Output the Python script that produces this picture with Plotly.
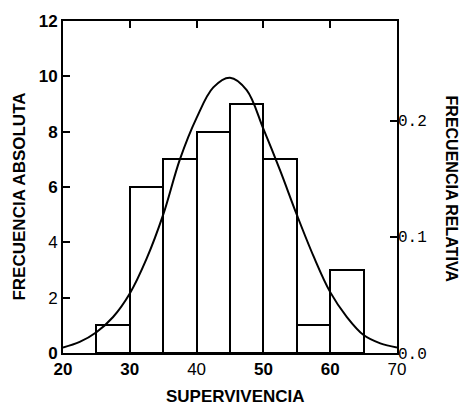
import plotly.graph_objects as go

# Histogram data (class midpoints, width 5)
bin_centers = [27.5, 32.5, 37.5, 42.5, 47.5, 52.5, 57.5, 62.5]
counts = [1, 6, 7, 8, 9, 7, 1, 3]
bin_width = 5

# Fitted curve, values
curve_x = [20, 22.5, 25, 27.5, 30, 32.5, 35, 37.5, 40, 42.5, 45, 47.5, 50,
           52.5, 55, 57.5, 60, 62.5, 65, 67.5, 70]
curve_y = [0.2, 0.4, 0.75, 1.3, 2.15, 3.4, 5.0, 7.0, 8.5, 9.6, 9.95, 9.5, 8.1,
           6.6, 5.0, 3.5, 2.2, 1.3, 0.65, 0.35, 0.2]

x_ticks = [20, 30, 40, 50, 60, 70]
x_ticktext = ["<b>20</b>", "<b>30</b>", "40", "<b>50</b>", "<b>60</b>", "70"]
y_ticks = [0, 2, 4, 6, 8, 10, 12]
y_ticktext = ["<b>0</b>", "2", "4", "<b>6</b>", "<b>8</b>", "<b>10</b>", "<b>12</b>"]
rel_ticks = [0.0, 0.1, 0.2]
rel_ticktext = ["0.0", "0.1", "0.2"]
total = sum(counts)

FONT = "Liberation Sans"
TITLE_FONT = "Liberation Sans Narrow, Liberation Sans"

fig = go.Figure()
fig.add_trace(go.Bar(
    x=bin_centers, y=counts, width=[bin_width] * len(counts),
    marker=dict(color="white", line=dict(color="black", width=2)),
    showlegend=False, hoverinfo="skip"))
fig.add_trace(go.Scatter(
    x=curve_x, y=curve_y, mode="lines",
    line=dict(color="black", width=2, shape="spline", smoothing=1.0),
    showlegend=False))
# invisible trace to activate secondary axis
fig.add_trace(go.Scatter(x=[20], y=[0], yaxis="y2", mode="markers",
                         marker=dict(opacity=0), showlegend=False,
                         hoverinfo="skip"))

fig.update_layout(
    width=462, height=405,
    margin=dict(l=63, r=65, t=19, b=52),
    paper_bgcolor="white", plot_bgcolor="white",
    font=dict(family=FONT, color="black", size=14),
    bargap=0,
    xaxis=dict(range=[20, 70], tickvals=x_ticks, ticktext=x_ticktext,
               ticks="inside", ticklen=7,
               tickwidth=2, tickcolor="black", showline=True, linewidth=2,
               linecolor="black", mirror="ticks", showgrid=False,
               zeroline=False, tickfont=dict(size=17, family=FONT)),
    yaxis=dict(range=[0, 12], tickvals=y_ticks, ticktext=y_ticktext,
               ticks="inside", ticklen=7,
               tickwidth=2, tickcolor="black", showline=True, linewidth=2,
               linecolor="black", mirror=True, showgrid=False,
               zeroline=False, tickfont=dict(size=17, family=FONT)),
    yaxis2=dict(range=[0, 12 / total], tickvals=rel_ticks,
                ticktext=rel_ticktext, overlaying="y", side="right",
                ticks="inside", ticklen=7, tickwidth=2, tickcolor="black",
                showline=False, showgrid=False, zeroline=False,
                tickfont=dict(size=16, family="Liberation Mono")),
    annotations=[
        dict(text="<b>SUPERVIVENCIA</b>", xref="paper", x=0.515,
             yref="paper", y=-0.13, xanchor="center", yanchor="middle",
             showarrow=False, font=dict(size=17, family=TITLE_FONT)),
        dict(text="<b>FRECUENCIA ABSOLUTA</b>", xref="paper", yref="paper",
             x=-0.13, y=0.47, xanchor="center", yanchor="middle",
             textangle=-90, showarrow=False,
             font=dict(size=17, family=TITLE_FONT)),
        dict(text="<b>FRECUENCIA RELATIVA</b>", xref="paper", yref="paper",
             x=1.162, y=0.495, xanchor="center", yanchor="middle",
             textangle=90, showarrow=False,
             font=dict(size=16, family=TITLE_FONT)),
    ],
)

fig.write_html(
    "out.html",
    config={"displayModeBar": False},
    post_script="document.body.style.margin='0px';"
                "document.body.style.overflow='hidden';")
